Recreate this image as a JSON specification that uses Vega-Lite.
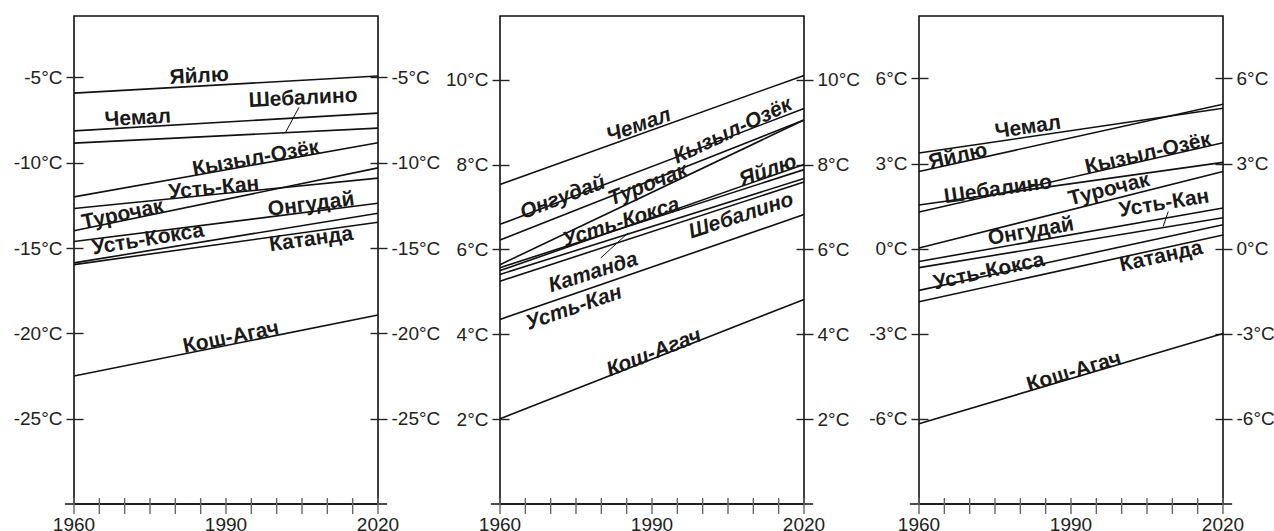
{
  "$schema": "https://vega.github.io/schema/vega-lite/v6.json",
  "padding": {"left": 12, "top": 15, "right": 5, "bottom": 30},
  "background": "white",
  "config": {
    "view": {"stroke": "#111", "strokeWidth": 1.6},
    "axis": {"labelFont": "Liberation Sans", "labelFontSize": 19, "labelColor": "#222", "tickColor": "#222", "tickWidth": 1.4, "domain": false, "grid": false, "labelOverlap": false}
  },
  "datasets": {
    "years": [
      {"year": 1960}, {"year": 1965}, {"year": 1970}, {"year": 1975}, {"year": 1980}, {"year": 1985}, {"year": 1990},
      {"year": 1995}, {"year": 2000}, {"year": 2005}, {"year": 2010}, {"year": 2015}, {"year": 2020}
    ],
    "yearLabels": [{"year": 1960}, {"year": 1990}, {"year": 2020}],
    "trendsA": [
      {"station": "Яйлю", "t1960": -5.92, "t2020": -4.92},
      {"station": "Чемал", "t1960": -8.13, "t2020": -7.09},
      {"station": "Шебалино", "t1960": -8.85, "t2020": -7.97},
      {"station": "Кызыл-Озёк", "t1960": -12.0, "t2020": -8.83},
      {"station": "Усть-Кан", "t1960": -12.68, "t2020": -10.9},
      {"station": "Турочак", "t1960": -13.99, "t2020": -10.3},
      {"station": "Онгудай", "t1960": -14.62, "t2020": -12.37},
      {"station": "Усть-Кокса", "t1960": -15.87, "t2020": -12.96},
      {"station": "Катанда", "t1960": -15.97, "t2020": -13.49},
      {"station": "Кош-Агач", "t1960": -22.5, "t2020": -18.92}
    ],
    "labelsA": [
      {"station": "Яйлю", "year": 1984.7, "temp": -4.94},
      {"station": "Чемал", "year": 1972.6, "temp": -7.4},
      {"station": "Шебалино", "year": 2005.2, "temp": -6.23},
      {"station": "Кызыл-Озёк", "year": 1995.9, "temp": -9.75},
      {"station": "Усть-Кан", "year": 1987.6, "temp": -11.5},
      {"station": "Турочак", "year": 1969.6, "temp": -13.04},
      {"station": "Онгудай", "year": 2006.8, "temp": -12.45},
      {"station": "Усть-Кокса", "year": 1974.6, "temp": -14.5},
      {"station": "Катанда", "year": 2006.8, "temp": -14.5},
      {"station": "Кош-Агач", "year": 1991.0, "temp": -20.25}
    ],
    "leadersA": [
      {"year": 2004.4, "temp": -6.75, "year2": 2001.8, "temp2": -8.2}
    ],
    "trendsB": [
      {"station": "Чемал", "t1960": 7.53, "t2020": 10.1},
      {"station": "Онгудай", "t1960": 6.59, "t2020": 9.32},
      {"station": "Турочак", "t1960": 6.22, "t2020": 9.05},
      {"station": "Кызыл-Озёк", "t1960": 5.64, "t2020": 9.05},
      {"station": "Усть-Кокса", "t1960": 5.57, "t2020": 7.88},
      {"station": "Яйлю", "t1960": 5.5, "t2020": 8.0},
      {"station": "Катанда", "t1960": 5.41, "t2020": 7.67},
      {"station": "Шебалино", "t1960": 5.25, "t2020": 7.59},
      {"station": "Усть-Кан", "t1960": 4.35, "t2020": 6.82},
      {"station": "Кош-Агач", "t1960": 2.01, "t2020": 4.82}
    ],
    "labelsB": [
      {"station": "Чемал", "year": 1987.4, "temp": 8.92},
      {"station": "Кызыл-Озёк", "year": 2005.9, "temp": 8.79},
      {"station": "Онгудай", "year": 1972.4, "temp": 7.22},
      {"station": "Турочак", "year": 1989.2, "temp": 7.52},
      {"station": "Усть-Кокса", "year": 1983.9, "temp": 6.63},
      {"station": "Яйлю", "year": 2012.9, "temp": 7.85},
      {"station": "Шебалино", "year": 2007.6, "temp": 6.79},
      {"station": "Катанда", "year": 1978.4, "temp": 5.45},
      {"station": "Усть-Кан", "year": 1974.6, "temp": 4.62},
      {"station": "Кош-Агач", "year": 1990.4, "temp": 3.56}
    ],
    "leadersB": [
      {"year": 1979.9, "temp": 5.8, "year2": 1985.3, "temp2": 6.39}
    ],
    "trendsC": [
      {"station": "Чемал", "t1960": 3.37, "t2020": 4.95},
      {"station": "Яйлю", "t1960": 2.72, "t2020": 5.09},
      {"station": "Шебалино", "t1960": 1.54, "t2020": 3.04},
      {"station": "Кызыл-Озёк", "t1960": 1.29, "t2020": 3.73},
      {"station": "Турочак", "t1960": 0.02, "t2020": 2.72},
      {"station": "Онгудай", "t1960": -0.45, "t2020": 1.43},
      {"station": "Усть-Кан", "t1960": -0.67, "t2020": 1.09},
      {"station": "Усть-Кокса", "t1960": -1.47, "t2020": 0.84},
      {"station": "Катанда", "t1960": -1.87, "t2020": 0.48},
      {"station": "Кош-Агач", "t1960": -6.17, "t2020": -2.99}
    ],
    "labelsC": [
      {"station": "Чемал", "year": 1981.5, "temp": 4.27},
      {"station": "Яйлю", "year": 1967.7, "temp": 3.25},
      {"station": "Кызыл-Озёк", "year": 2005.2, "temp": 3.35},
      {"station": "Шебалино", "year": 1975.6, "temp": 2.08},
      {"station": "Турочак", "year": 1997.5, "temp": 2.08},
      {"station": "Усть-Кан", "year": 2008.4, "temp": 1.59},
      {"station": "Онгудай", "year": 1982.1, "temp": 0.6},
      {"station": "Усть-Кокса", "year": 1973.8, "temp": -0.81},
      {"station": "Катанда", "year": 2007.8, "temp": -0.28},
      {"station": "Кош-Агач", "year": 1990.6, "temp": -4.34}
    ],
    "leadersC": [
      {"year": 2009.2, "temp": 1.31, "year2": 2008.2, "temp2": 0.78}
    ]
  },
  "bounds": "flush",
  "spacing": 122,
  "hconcat": [
    {
      "width": 304, "height": 488,
      "layer": [
        {
          "data": {"name": "trendsA"},
          "mark": {"type": "rule", "stroke": "#111", "strokeWidth": 1.6},
          "encoding": {
            "x": {"datum": 1960, "type": "quantitative", "scale": {"domain": [1960, 2020]}, "axis": null},
            "x2": {"datum": 2020},
            "y": {"field": "t1960", "type": "quantitative", "scale": {"domain": [-30, -1.4], "nice": false, "zero": false},
              "axis": {"orient": "left", "title": null, "values": [-25,-20,-15,-10,-5], "labelExpr": "datum.value + '°C'", "tickSize": 17, "offset": -9, "labelPadding": 4}},
            "y2": {"field": "t2020"}
          }
        },
        {
          "data": {"name": "labelsA"},
          "transform": [
            {"lookup": "station", "from": {"data": {"name": "trendsA"}, "key": "station", "fields": ["t1960", "t2020"]}},
            {"calculate": "-atan((datum.t2020 - datum.t1960) * 17.06 / 304) * 180 / PI", "as": "angle"}
          ],
          "mark": {"type": "text", "font": "Liberation Sans", "fontWeight": "bold", "fontSize": 21, "fill": "#1a1a1a", "align": "center", "baseline": "middle"},
          "encoding": {
            "x": {"field": "year", "type": "quantitative", "axis": null},
            "y": {"field": "temp", "type": "quantitative",
              "axis": {"orient": "right", "title": null, "values": [-25,-20,-15,-10,-5], "labelExpr": "datum.value + '°C'", "tickSize": 17, "offset": -8, "labelPadding": 4}},
            "text": {"field": "station"},
            "angle": {"field": "angle", "type": "quantitative", "scale": null}
          }
        },
        {
          "data": {"name": "leadersA"},
          "mark": {"type": "rule", "stroke": "#111", "strokeWidth": 1},
          "encoding": {
            "x": {"field": "year", "type": "quantitative", "axis": null},
            "x2": {"field": "year2"},
            "y": {"field": "temp", "type": "quantitative", "axis": null},
            "y2": {"field": "temp2"}
          }
        },
        {
          "data": {"values": [{"x0": 1958.2, "x1": 2021.8, "y0": -30}]},
          "mark": {"type": "rule", "stroke": "#111", "strokeWidth": 1.6},
          "encoding": {
            "x": {"field": "x0", "type": "quantitative", "axis": null},
            "x2": {"field": "x1"},
            "y": {"field": "y0", "type": "quantitative", "axis": null}
          }
        },
        {
          "data": {"name": "years"},
          "mark": {"type": "rule", "stroke": "#666", "strokeWidth": 1.4, "yOffset": -6, "y2Offset": 10},
          "encoding": {
            "x": {"field": "year", "type": "quantitative", "axis": null},
            "y": {"datum": -30, "type": "quantitative", "axis": null},
            "y2": {"datum": -30}
          }
        },
        {
          "data": {"name": "yearLabels"},
          "mark": {"type": "text", "font": "Liberation Sans", "fontSize": 19, "fill": "#222", "align": "center", "baseline": "top", "dy": 12},
          "encoding": {
            "x": {"field": "year", "type": "quantitative", "axis": null},
            "y": {"datum": -30, "type": "quantitative", "axis": null},
            "text": {"field": "year", "type": "quantitative", "format": "d"}
          }
        }
      ]
    },
    {
      "bounds": "flush",
      "spacing": 115,
      "hconcat": [
        {
          "width": 304, "height": 488,
          "layer": [
            {
              "data": {"name": "trendsB"},
              "mark": {"type": "rule", "stroke": "#111", "strokeWidth": 1.6},
              "encoding": {
                "x": {"datum": 1960, "type": "quantitative", "scale": {"domain": [1960, 2020]}, "axis": null},
                "x2": {"datum": 2020},
                "y": {"field": "t1960", "type": "quantitative", "scale": {"domain": [0, 11.5], "nice": false, "zero": false},
                  "axis": {"orient": "left", "title": null, "values": [2,4,6,8,10], "labelExpr": "datum.value + '°C'", "tickSize": 17, "offset": -9, "labelPadding": 4}},
                "y2": {"field": "t2020"}
              }
            },
            {
              "data": {"name": "labelsB"},
              "transform": [
                {"lookup": "station", "from": {"data": {"name": "trendsB"}, "key": "station", "fields": ["t1960", "t2020"]}},
                {"calculate": "-atan((datum.t2020 - datum.t1960) * 42.43 / 304) * 180 / PI", "as": "angle"}
              ],
              "mark": {"type": "text", "font": "Liberation Sans", "fontWeight": "bold", "fontStyle": "italic", "fontSize": 21, "fill": "#1a1a1a", "align": "center", "baseline": "middle"},
              "encoding": {
                "x": {"field": "year", "type": "quantitative", "axis": null},
                "y": {"field": "temp", "type": "quantitative",
                  "axis": {"orient": "right", "title": null, "values": [2,4,6,8,10], "labelExpr": "datum.value + '°C'", "tickSize": 17, "offset": -8, "labelPadding": 4}},
                "text": {"field": "station"},
                "angle": {"field": "angle", "type": "quantitative", "scale": null}
              }
            },
            {
              "data": {"name": "leadersB"},
              "mark": {"type": "rule", "stroke": "#111", "strokeWidth": 1},
              "encoding": {
                "x": {"field": "year", "type": "quantitative", "axis": null},
                "x2": {"field": "year2"},
                "y": {"field": "temp", "type": "quantitative", "axis": null},
                "y2": {"field": "temp2"}
              }
            },
            {
              "data": {"values": [{"x0": 1958.2, "x1": 2021.8, "y0": 0}]},
              "mark": {"type": "rule", "stroke": "#111", "strokeWidth": 1.6},
              "encoding": {
                "x": {"field": "x0", "type": "quantitative", "axis": null},
                "x2": {"field": "x1"},
                "y": {"field": "y0", "type": "quantitative", "axis": null}
              }
            },
            {
              "data": {"name": "years"},
              "mark": {"type": "rule", "stroke": "#666", "strokeWidth": 1.4, "yOffset": -6, "y2Offset": 10},
              "encoding": {
                "x": {"field": "year", "type": "quantitative", "axis": null},
                "y": {"datum": 0, "type": "quantitative", "axis": null},
                "y2": {"datum": 0}
              }
            },
            {
              "data": {"name": "yearLabels"},
              "mark": {"type": "text", "font": "Liberation Sans", "fontSize": 19, "fill": "#222", "align": "center", "baseline": "top", "dy": 12},
              "encoding": {
                "x": {"field": "year", "type": "quantitative", "axis": null},
                "y": {"datum": 0, "type": "quantitative", "axis": null},
                "text": {"field": "year", "type": "quantitative", "format": "d"}
              }
            }
          ]
        },
        {
          "width": 304, "height": 488,
          "layer": [
            {
              "data": {"name": "trendsC"},
              "mark": {"type": "rule", "stroke": "#111", "strokeWidth": 1.6},
              "encoding": {
                "x": {"datum": 1960, "type": "quantitative", "scale": {"domain": [1960, 2020]}, "axis": null},
                "x2": {"datum": 2020},
                "y": {"field": "t1960", "type": "quantitative", "scale": {"domain": [-9, 8.2], "nice": false, "zero": false},
                  "axis": {"orient": "left", "title": null, "values": [-6,-3,0,3,6], "labelExpr": "datum.value + '°C'", "tickSize": 17, "offset": -9, "labelPadding": 4}},
                "y2": {"field": "t2020"}
              }
            },
            {
              "data": {"name": "labelsC"},
              "transform": [
                {"lookup": "station", "from": {"data": {"name": "trendsC"}, "key": "station", "fields": ["t1960", "t2020"]}},
                {"calculate": "-atan((datum.t2020 - datum.t1960) * 28.37 / 304) * 180 / PI", "as": "angle"}
              ],
              "mark": {"type": "text", "font": "Liberation Sans", "fontWeight": "bold", "fontSize": 21, "fill": "#1a1a1a", "align": "center", "baseline": "middle"},
              "encoding": {
                "x": {"field": "year", "type": "quantitative", "axis": null},
                "y": {"field": "temp", "type": "quantitative",
                  "axis": {"orient": "right", "title": null, "values": [-6,-3,0,3,6], "labelExpr": "datum.value + '°C'", "tickSize": 17, "offset": -8, "labelPadding": 4}},
                "text": {"field": "station"},
                "angle": {"field": "angle", "type": "quantitative", "scale": null}
              }
            },
            {
              "data": {"name": "leadersC"},
              "mark": {"type": "rule", "stroke": "#111", "strokeWidth": 1},
              "encoding": {
                "x": {"field": "year", "type": "quantitative", "axis": null},
                "x2": {"field": "year2"},
                "y": {"field": "temp", "type": "quantitative", "axis": null},
                "y2": {"field": "temp2"}
              }
            },
            {
              "data": {"values": [{"x0": 1958.2, "x1": 2021.8, "y0": -9}]},
              "mark": {"type": "rule", "stroke": "#111", "strokeWidth": 1.6},
              "encoding": {
                "x": {"field": "x0", "type": "quantitative", "axis": null},
                "x2": {"field": "x1"},
                "y": {"field": "y0", "type": "quantitative", "axis": null}
              }
            },
            {
              "data": {"name": "years"},
              "mark": {"type": "rule", "stroke": "#666", "strokeWidth": 1.4, "yOffset": -6, "y2Offset": 10},
              "encoding": {
                "x": {"field": "year", "type": "quantitative", "axis": null},
                "y": {"datum": -9, "type": "quantitative", "axis": null},
                "y2": {"datum": -9}
              }
            },
            {
              "data": {"name": "yearLabels"},
              "mark": {"type": "text", "font": "Liberation Sans", "fontSize": 19, "fill": "#222", "align": "center", "baseline": "top", "dy": 12},
              "encoding": {
                "x": {"field": "year", "type": "quantitative", "axis": null},
                "y": {"datum": -9, "type": "quantitative", "axis": null},
                "text": {"field": "year", "type": "quantitative", "format": "d"}
              }
            }
          ]
        }
      ]
    }
  ]
}
